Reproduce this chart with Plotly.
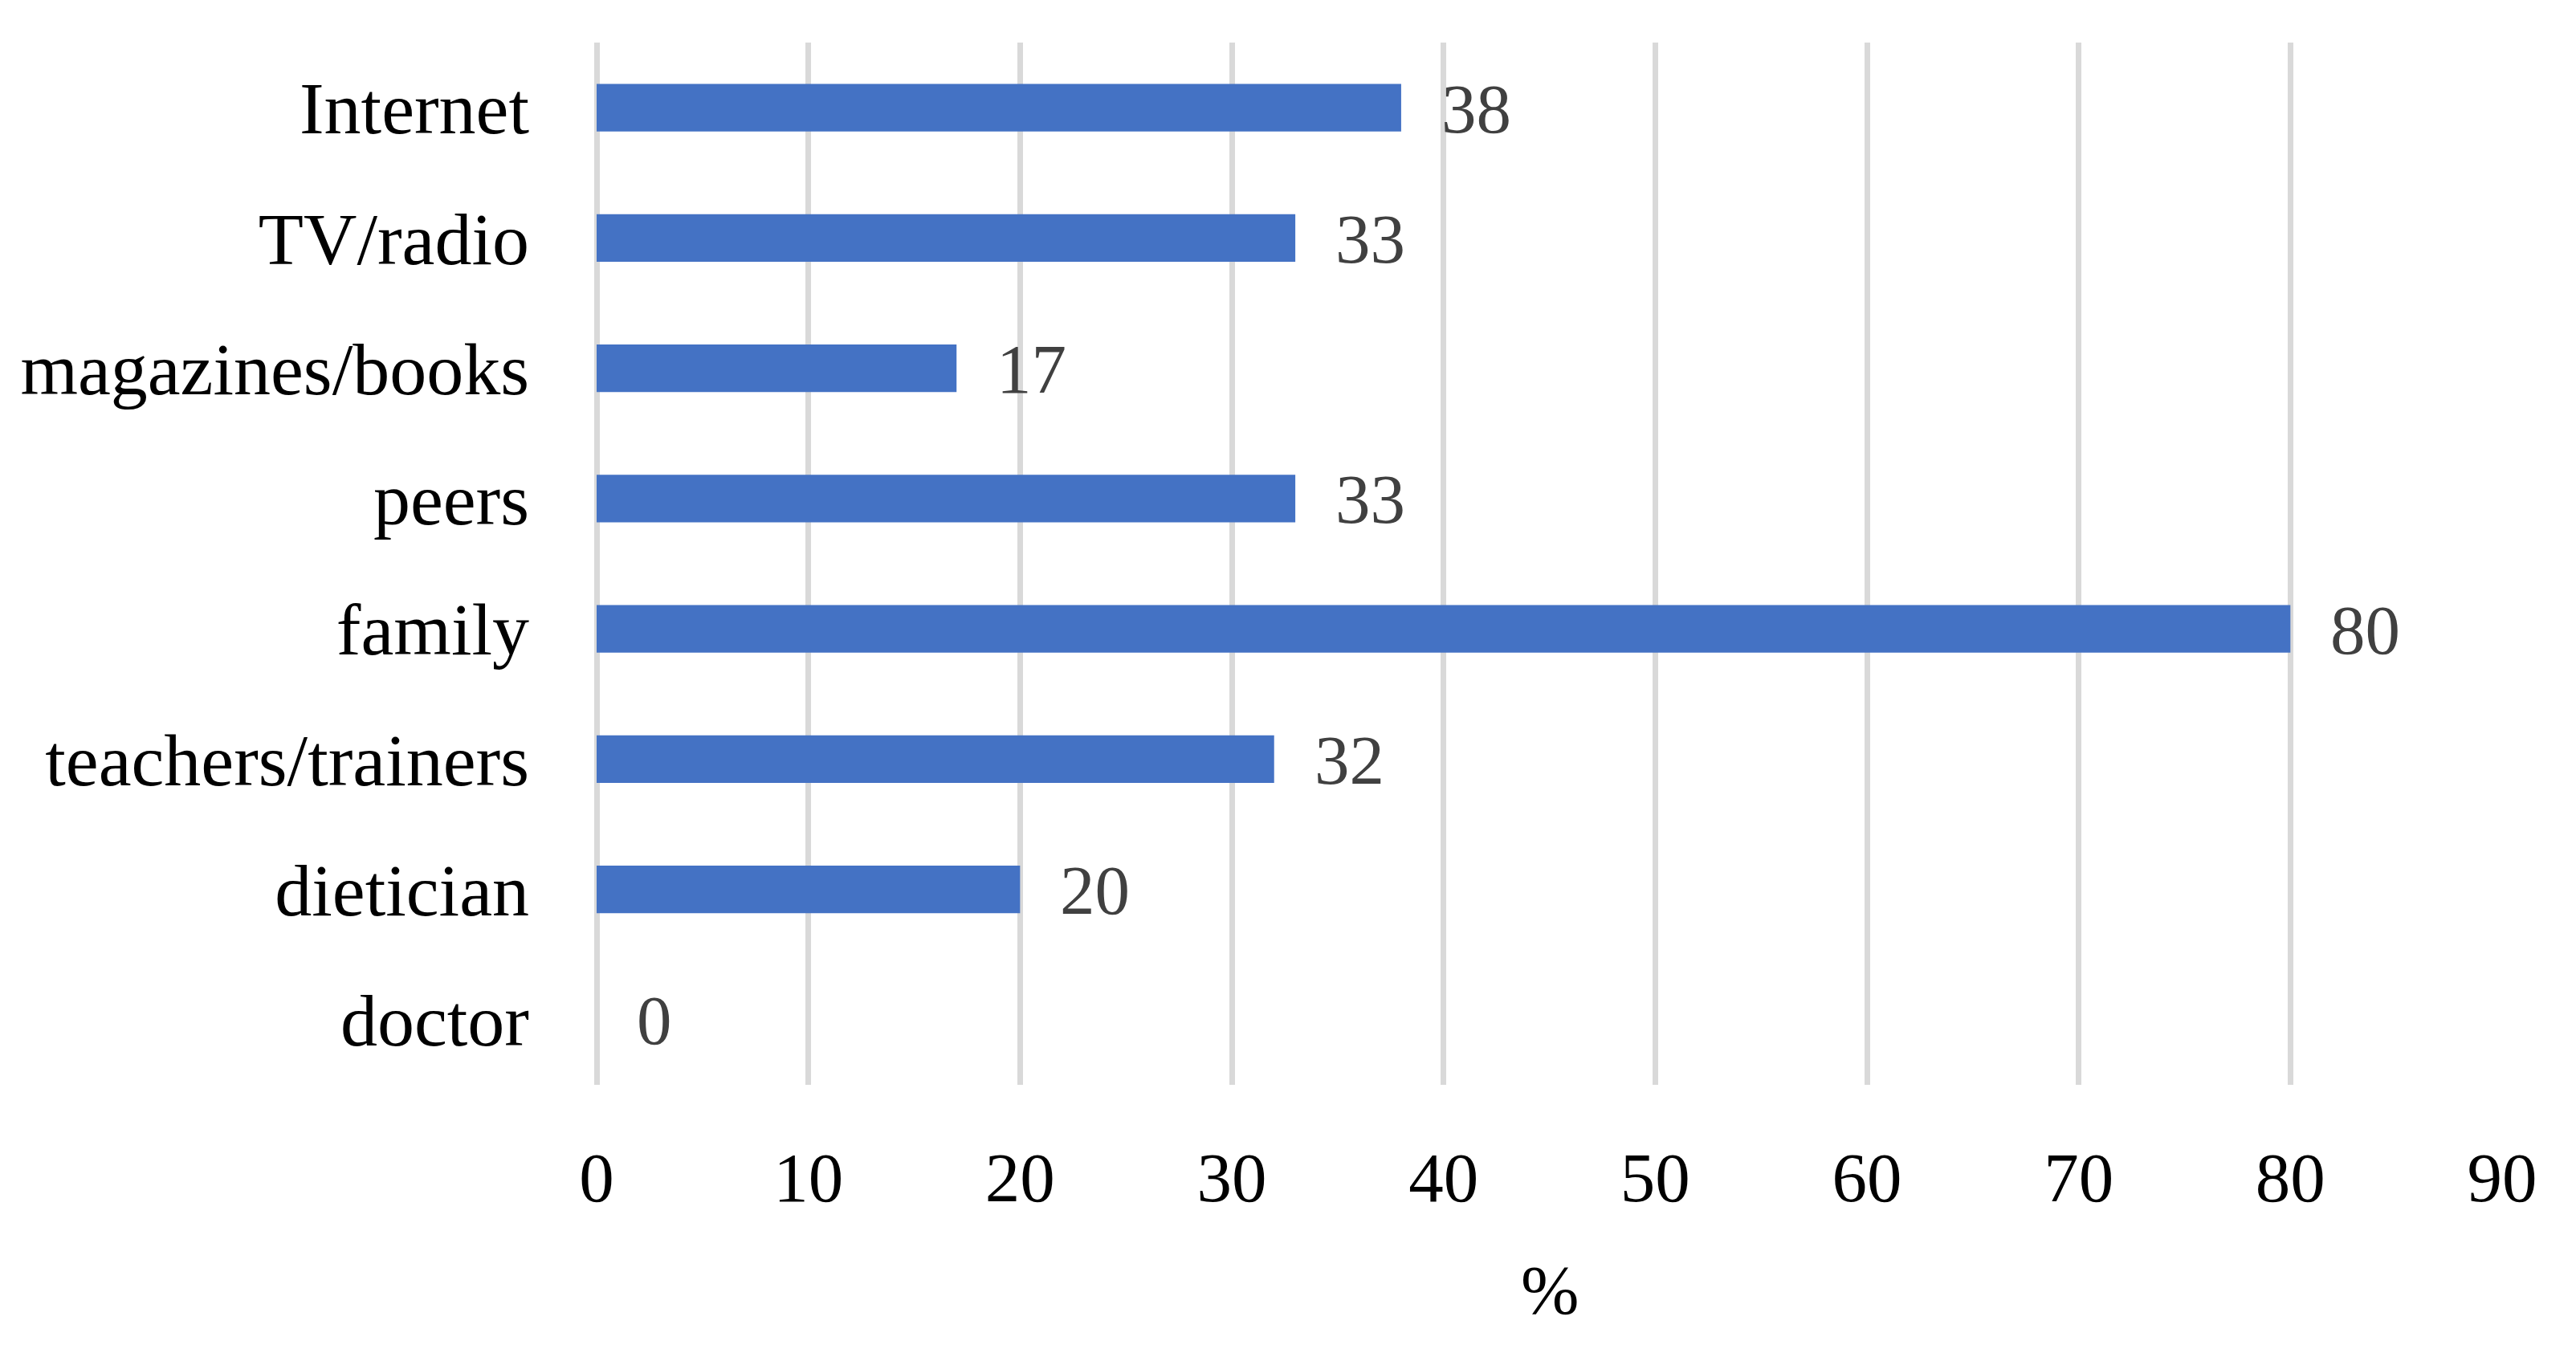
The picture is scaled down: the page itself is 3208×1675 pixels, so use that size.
import plotly.graph_objects as go

categories = ["Internet", "TV/radio", "magazines/books", "peers", "family",
              "teachers/trainers", "dietician", "doctor"]
values = [38, 33, 17, 33, 80, 32, 20, 0]
x_ticks = [0, 10, 20, 30, 40, 50, 60, 70, 80, 90]
x_title = "%"

FONT = "Liberation Serif"
FS_NUM = 87
FS_CAT = 92

fig = go.Figure()
fig.add_trace(go.Bar(
    x=values, y=categories, orientation="h",
    marker=dict(color="#4472c4", line=dict(width=0)),
    hoverinfo="x+y",
))

for c, v in zip(categories, values):
    fig.add_annotation(
        x=v, y=c, xref="x", yref="y", text=str(v), showarrow=False,
        xanchor="left", yanchor="middle", xshift=48, yshift=-1,
        font=dict(family=FONT, size=FS_NUM, color="#404040"),
    )

fig.add_annotation(
    x=0.5, y=-0.1965, xref="paper", yref="paper", text=x_title, showarrow=False,
    xanchor="center", yanchor="middle",
    font=dict(family=FONT, size=FS_NUM, color="#000000"),
)

# page body has an 8px margin; figure sized to fit inside it
fig.update_layout(
    width=3192, height=1659,
    margin=dict(l=734.5, r=84, t=45, b=316, autoexpand=False),
    paper_bgcolor="white", plot_bgcolor="white",
    bargap=0.636,
    showlegend=False,
    font=dict(family=FONT, size=FS_NUM, color="#000000"),
)
fig.update_xaxes(
    range=[0, 90], tickvals=x_ticks, ticktext=[str(t) for t in x_ticks],
    showgrid=True, gridcolor="#d9d9d9", gridwidth=7,
    zeroline=True, zerolinecolor="#d9d9d9", zerolinewidth=7,
    showline=False, ticks="", ticklabelstandoff=57,
    tickfont=dict(family=FONT, size=FS_NUM, color="#000000"),
)
fig.update_yaxes(
    categoryorder="array", categoryarray=categories, autorange="reversed",
    showgrid=False, zeroline=False, showline=False, ticks="",
    ticklabelstandoff=83,
    tickfont=dict(family=FONT, size=FS_CAT, color="#000000"),
)

fig.write_html("out.html")
